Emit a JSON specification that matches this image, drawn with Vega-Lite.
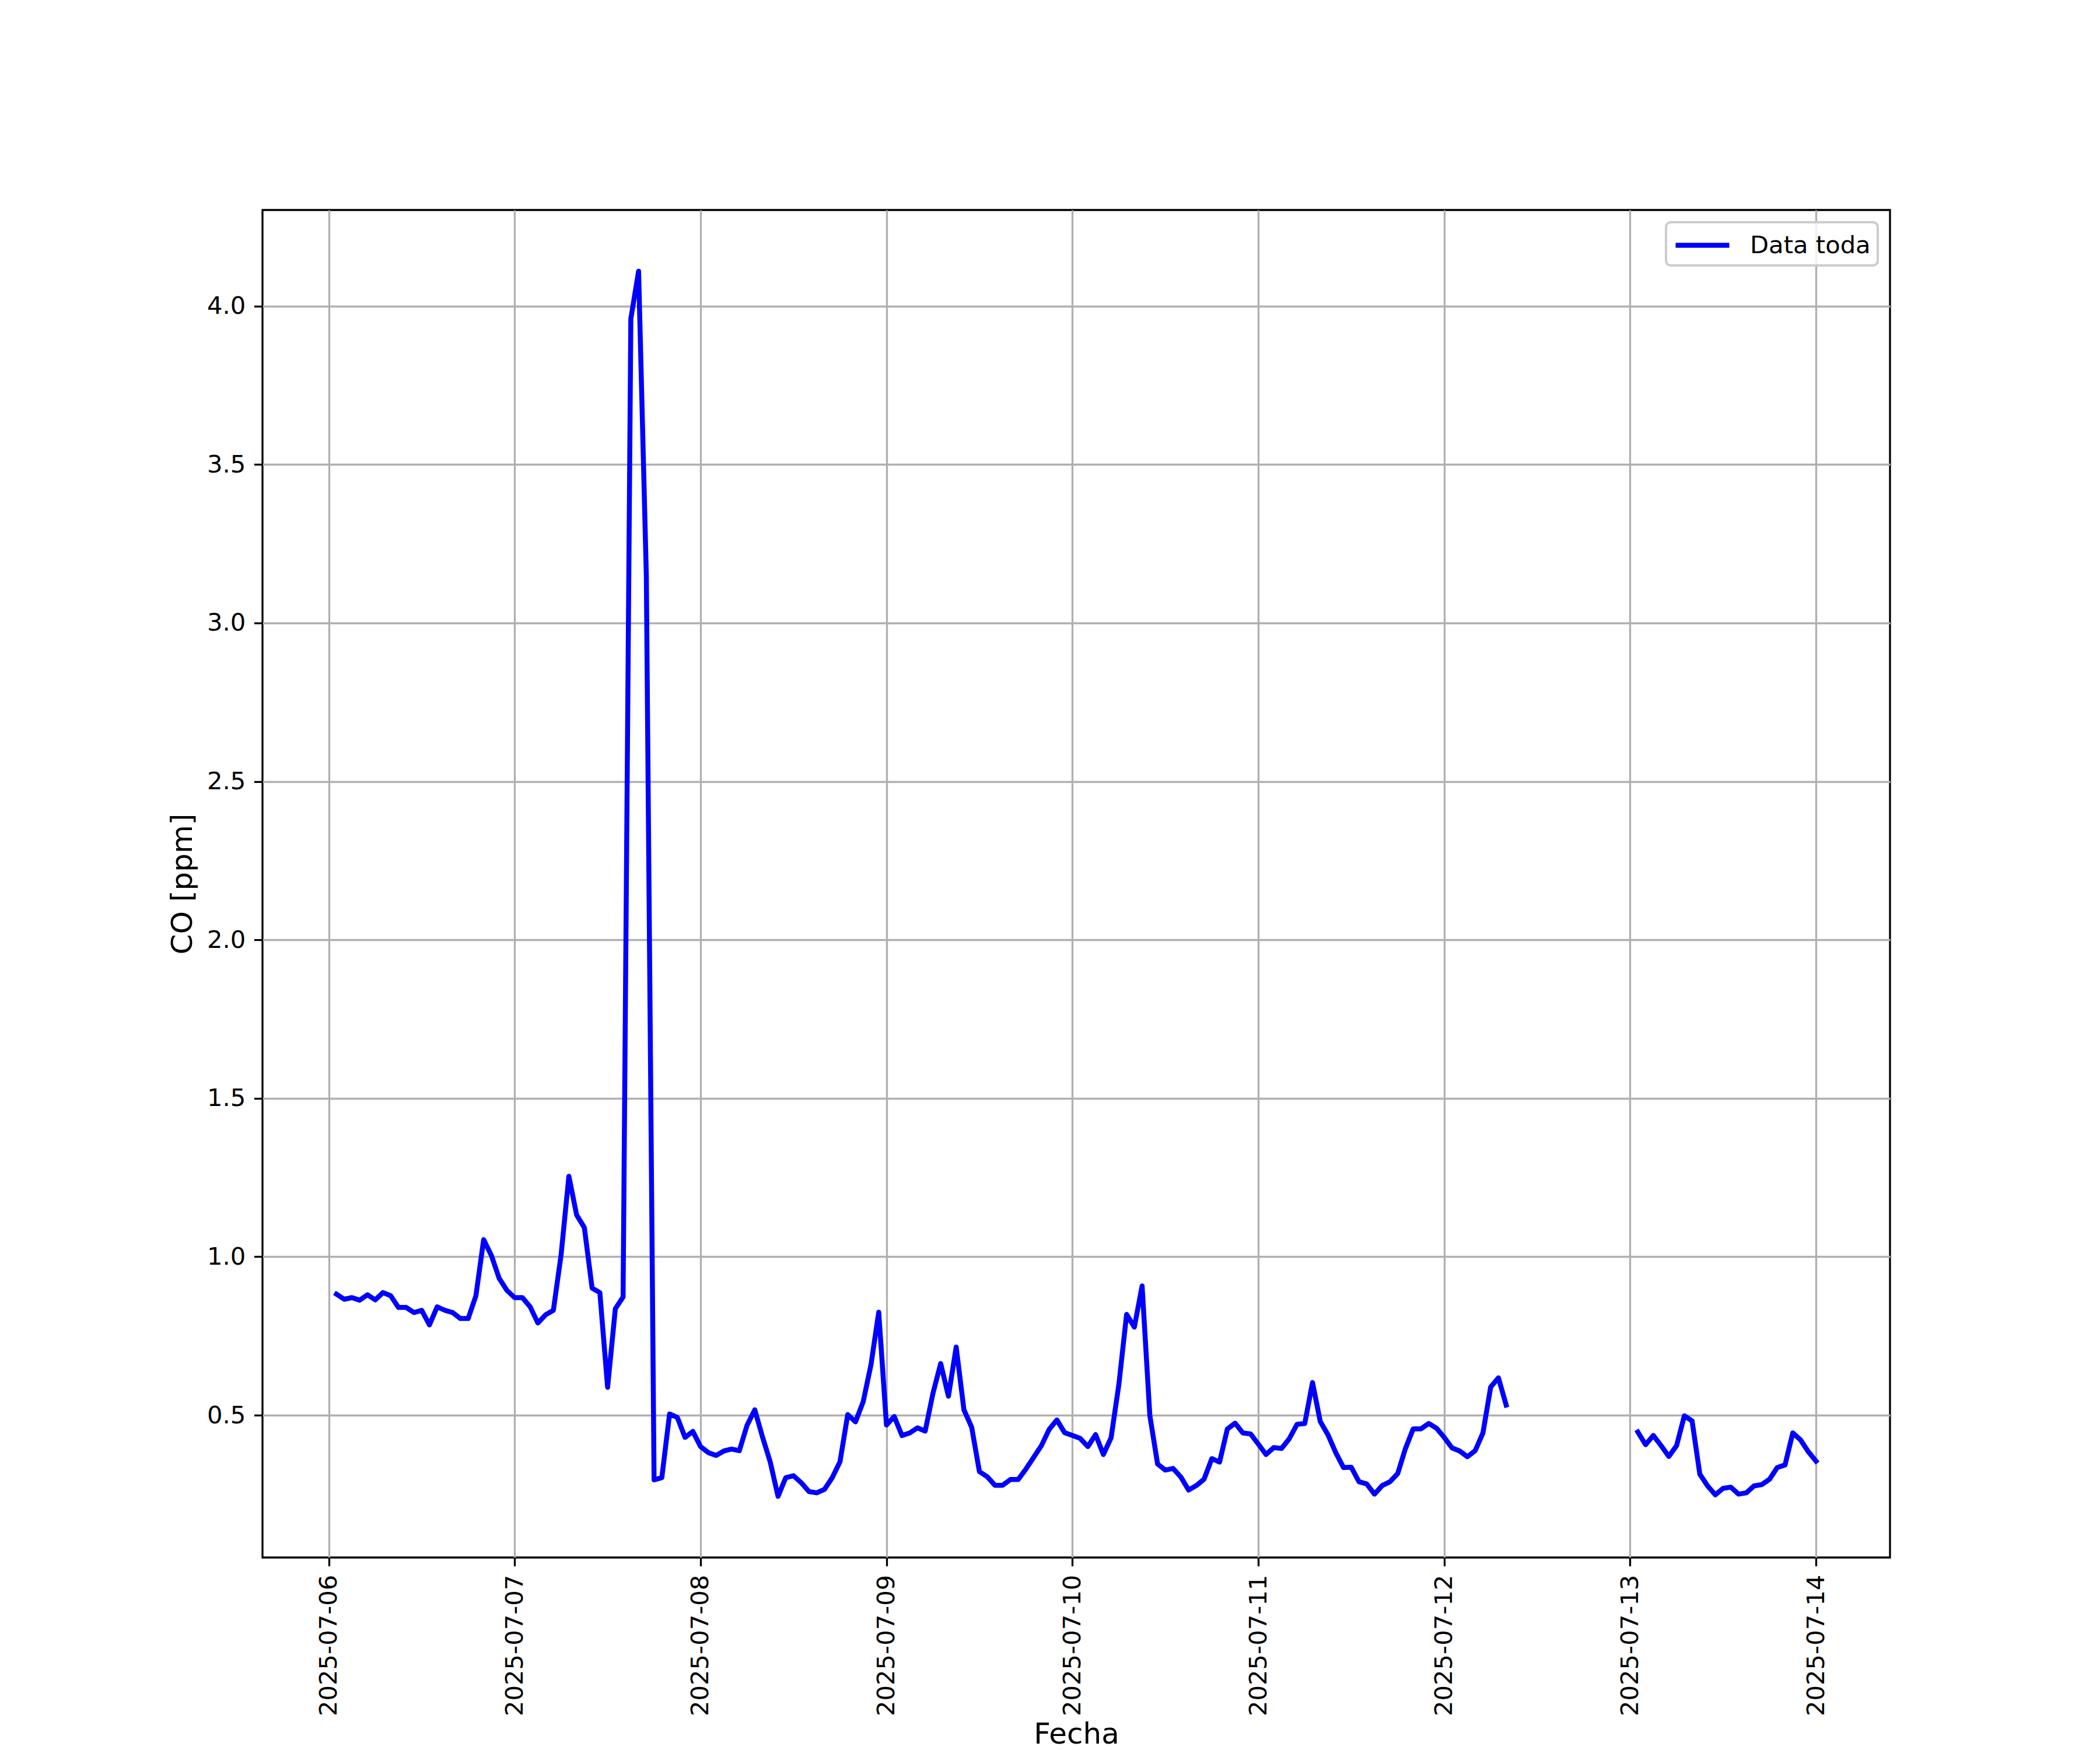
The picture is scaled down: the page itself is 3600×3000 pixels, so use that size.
{
  "$schema": "https://vega.github.io/schema/vega-lite/v6.json",
  "width": 2790,
  "height": 2310,
  "autosize": {"type": "none"},
  "padding": {"left": 450, "top": 360, "right": 360, "bottom": 330},
  "background": "white",
  "config": {
    "font": "DejaVu Sans",
    "view": {"stroke": "black", "strokeWidth": 3.3},
    "axis": {
      "domain": false,
      "grid": true,
      "gridColor": "#b0b0b0",
      "gridWidth": 3.3,
      "gridOpacity": 1,
      "tickColor": "black",
      "tickWidth": 3.3,
      "tickSize": 14.6,
      "labelFont": "DejaVu Sans",
      "labelFontSize": 41.7,
      "labelColor": "black",
      "labelPadding": 14.6,
      "labelLimit": 400,
      "titleFont": "DejaVu Sans",
      "titleFontSize": 50,
      "titleFontWeight": "normal",
      "titleColor": "black",
      "titlePadding": 16
    },
    "legend": {
      "orient": "top-right",
      "offset": 21,
      "symbolType": "M-2,0H2",
      "symbolStrokeWidth": 8.5,
      "symbolSize": 2116,
      "symbolOffset": 23,
      "labelFont": "DejaVu Sans",
      "labelFontSize": 41.7,
      "labelColor": "black",
      "labelOffset": 54,
      "labelLimit": 0,
      "padding": 12,
      "strokeColor": "#cccccc",
      "strokeWidth": 4,
      "fillColor": "rgba(255,255,255,0.8)",
      "cornerRadius": 8
    }
  },
  "data": {
    "values": [
      {"fecha": "2025-07-06T01:00", "co": 0.882, "tramo": 1},
      {"fecha": "2025-07-06T02:00", "co": 0.866, "tramo": 1},
      {"fecha": "2025-07-06T03:00", "co": 0.871, "tramo": 1},
      {"fecha": "2025-07-06T04:00", "co": 0.863, "tramo": 1},
      {"fecha": "2025-07-06T05:00", "co": 0.880, "tramo": 1},
      {"fecha": "2025-07-06T06:00", "co": 0.864, "tramo": 1},
      {"fecha": "2025-07-06T07:00", "co": 0.887, "tramo": 1},
      {"fecha": "2025-07-06T08:00", "co": 0.877, "tramo": 1},
      {"fecha": "2025-07-06T09:00", "co": 0.840, "tramo": 1},
      {"fecha": "2025-07-06T10:00", "co": 0.840, "tramo": 1},
      {"fecha": "2025-07-06T11:00", "co": 0.824, "tramo": 1},
      {"fecha": "2025-07-06T12:00", "co": 0.831, "tramo": 1},
      {"fecha": "2025-07-06T13:00", "co": 0.785, "tramo": 1},
      {"fecha": "2025-07-06T14:00", "co": 0.842, "tramo": 1},
      {"fecha": "2025-07-06T15:00", "co": 0.831, "tramo": 1},
      {"fecha": "2025-07-06T16:00", "co": 0.824, "tramo": 1},
      {"fecha": "2025-07-06T17:00", "co": 0.805, "tramo": 1},
      {"fecha": "2025-07-06T18:00", "co": 0.805, "tramo": 1},
      {"fecha": "2025-07-06T19:00", "co": 0.877, "tramo": 1},
      {"fecha": "2025-07-06T20:00", "co": 1.054, "tramo": 1},
      {"fecha": "2025-07-06T21:00", "co": 1.004, "tramo": 1},
      {"fecha": "2025-07-06T22:00", "co": 0.932, "tramo": 1},
      {"fecha": "2025-07-06T23:00", "co": 0.894, "tramo": 1},
      {"fecha": "2025-07-07T00:00", "co": 0.871, "tramo": 1},
      {"fecha": "2025-07-07T01:00", "co": 0.871, "tramo": 1},
      {"fecha": "2025-07-07T02:00", "co": 0.842, "tramo": 1},
      {"fecha": "2025-07-07T03:00", "co": 0.791, "tramo": 1},
      {"fecha": "2025-07-07T04:00", "co": 0.817, "tramo": 1},
      {"fecha": "2025-07-07T05:00", "co": 0.831, "tramo": 1},
      {"fecha": "2025-07-07T06:00", "co": 1.007, "tramo": 1},
      {"fecha": "2025-07-07T07:00", "co": 1.254, "tramo": 1},
      {"fecha": "2025-07-07T08:00", "co": 1.132, "tramo": 1},
      {"fecha": "2025-07-07T09:00", "co": 1.092, "tramo": 1},
      {"fecha": "2025-07-07T10:00", "co": 0.901, "tramo": 1},
      {"fecha": "2025-07-07T11:00", "co": 0.887, "tramo": 1},
      {"fecha": "2025-07-07T12:00", "co": 0.588, "tramo": 1},
      {"fecha": "2025-07-07T13:00", "co": 0.836, "tramo": 1},
      {"fecha": "2025-07-07T14:00", "co": 0.873, "tramo": 1},
      {"fecha": "2025-07-07T15:00", "co": 3.96, "tramo": 1},
      {"fecha": "2025-07-07T16:00", "co": 4.11, "tramo": 1},
      {"fecha": "2025-07-07T17:00", "co": 3.15, "tramo": 1},
      {"fecha": "2025-07-07T18:00", "co": 0.296, "tramo": 1},
      {"fecha": "2025-07-07T19:00", "co": 0.303, "tramo": 1},
      {"fecha": "2025-07-07T20:00", "co": 0.504, "tramo": 1},
      {"fecha": "2025-07-07T21:00", "co": 0.493, "tramo": 1},
      {"fecha": "2025-07-07T22:00", "co": 0.430, "tramo": 1},
      {"fecha": "2025-07-07T23:00", "co": 0.449, "tramo": 1},
      {"fecha": "2025-07-08T00:00", "co": 0.401, "tramo": 1},
      {"fecha": "2025-07-08T01:00", "co": 0.382, "tramo": 1},
      {"fecha": "2025-07-08T02:00", "co": 0.373, "tramo": 1},
      {"fecha": "2025-07-08T03:00", "co": 0.387, "tramo": 1},
      {"fecha": "2025-07-08T04:00", "co": 0.393, "tramo": 1},
      {"fecha": "2025-07-08T05:00", "co": 0.388, "tramo": 1},
      {"fecha": "2025-07-08T06:00", "co": 0.468, "tramo": 1},
      {"fecha": "2025-07-08T07:00", "co": 0.517, "tramo": 1},
      {"fecha": "2025-07-08T08:00", "co": 0.431, "tramo": 1},
      {"fecha": "2025-07-08T09:00", "co": 0.352, "tramo": 1},
      {"fecha": "2025-07-08T10:00", "co": 0.244, "tramo": 1},
      {"fecha": "2025-07-08T11:00", "co": 0.303, "tramo": 1},
      {"fecha": "2025-07-08T12:00", "co": 0.309, "tramo": 1},
      {"fecha": "2025-07-08T13:00", "co": 0.287, "tramo": 1},
      {"fecha": "2025-07-08T14:00", "co": 0.259, "tramo": 1},
      {"fecha": "2025-07-08T15:00", "co": 0.255, "tramo": 1},
      {"fecha": "2025-07-08T16:00", "co": 0.266, "tramo": 1},
      {"fecha": "2025-07-08T17:00", "co": 0.303, "tramo": 1},
      {"fecha": "2025-07-08T18:00", "co": 0.353, "tramo": 1},
      {"fecha": "2025-07-08T19:00", "co": 0.502, "tramo": 1},
      {"fecha": "2025-07-08T20:00", "co": 0.479, "tramo": 1},
      {"fecha": "2025-07-08T21:00", "co": 0.543, "tramo": 1},
      {"fecha": "2025-07-08T22:00", "co": 0.659, "tramo": 1},
      {"fecha": "2025-07-08T23:00", "co": 0.825, "tramo": 1},
      {"fecha": "2025-07-09T00:00", "co": 0.469, "tramo": 1},
      {"fecha": "2025-07-09T01:00", "co": 0.496, "tramo": 1},
      {"fecha": "2025-07-09T02:00", "co": 0.436, "tramo": 1},
      {"fecha": "2025-07-09T03:00", "co": 0.444, "tramo": 1},
      {"fecha": "2025-07-09T04:00", "co": 0.460, "tramo": 1},
      {"fecha": "2025-07-09T05:00", "co": 0.450, "tramo": 1},
      {"fecha": "2025-07-09T06:00", "co": 0.569, "tramo": 1},
      {"fecha": "2025-07-09T07:00", "co": 0.663, "tramo": 1},
      {"fecha": "2025-07-09T08:00", "co": 0.560, "tramo": 1},
      {"fecha": "2025-07-09T09:00", "co": 0.715, "tramo": 1},
      {"fecha": "2025-07-09T10:00", "co": 0.517, "tramo": 1},
      {"fecha": "2025-07-09T11:00", "co": 0.462, "tramo": 1},
      {"fecha": "2025-07-09T12:00", "co": 0.322, "tramo": 1},
      {"fecha": "2025-07-09T13:00", "co": 0.306, "tramo": 1},
      {"fecha": "2025-07-09T14:00", "co": 0.279, "tramo": 1},
      {"fecha": "2025-07-09T15:00", "co": 0.279, "tramo": 1},
      {"fecha": "2025-07-09T16:00", "co": 0.297, "tramo": 1},
      {"fecha": "2025-07-09T17:00", "co": 0.297, "tramo": 1},
      {"fecha": "2025-07-09T18:00", "co": 0.330, "tramo": 1},
      {"fecha": "2025-07-09T19:00", "co": 0.367, "tramo": 1},
      {"fecha": "2025-07-09T20:00", "co": 0.404, "tramo": 1},
      {"fecha": "2025-07-09T21:00", "co": 0.455, "tramo": 1},
      {"fecha": "2025-07-09T22:00", "co": 0.485, "tramo": 1},
      {"fecha": "2025-07-09T23:00", "co": 0.445, "tramo": 1},
      {"fecha": "2025-07-10T00:00", "co": 0.436, "tramo": 1},
      {"fecha": "2025-07-10T01:00", "co": 0.427, "tramo": 1},
      {"fecha": "2025-07-10T02:00", "co": 0.401, "tramo": 1},
      {"fecha": "2025-07-10T03:00", "co": 0.439, "tramo": 1},
      {"fecha": "2025-07-10T04:00", "co": 0.376, "tramo": 1},
      {"fecha": "2025-07-10T05:00", "co": 0.429, "tramo": 1},
      {"fecha": "2025-07-10T06:00", "co": 0.597, "tramo": 1},
      {"fecha": "2025-07-10T07:00", "co": 0.818, "tramo": 1},
      {"fecha": "2025-07-10T08:00", "co": 0.778, "tramo": 1},
      {"fecha": "2025-07-10T09:00", "co": 0.908, "tramo": 1},
      {"fecha": "2025-07-10T10:00", "co": 0.499, "tramo": 1},
      {"fecha": "2025-07-10T11:00", "co": 0.346, "tramo": 1},
      {"fecha": "2025-07-10T12:00", "co": 0.327, "tramo": 1},
      {"fecha": "2025-07-10T13:00", "co": 0.332, "tramo": 1},
      {"fecha": "2025-07-10T14:00", "co": 0.305, "tramo": 1},
      {"fecha": "2025-07-10T15:00", "co": 0.264, "tramo": 1},
      {"fecha": "2025-07-10T16:00", "co": 0.278, "tramo": 1},
      {"fecha": "2025-07-10T17:00", "co": 0.298, "tramo": 1},
      {"fecha": "2025-07-10T18:00", "co": 0.363, "tramo": 1},
      {"fecha": "2025-07-10T19:00", "co": 0.352, "tramo": 1},
      {"fecha": "2025-07-10T20:00", "co": 0.456, "tramo": 1},
      {"fecha": "2025-07-10T21:00", "co": 0.475, "tramo": 1},
      {"fecha": "2025-07-10T22:00", "co": 0.444, "tramo": 1},
      {"fecha": "2025-07-10T23:00", "co": 0.441, "tramo": 1},
      {"fecha": "2025-07-11T00:00", "co": 0.409, "tramo": 1},
      {"fecha": "2025-07-11T01:00", "co": 0.376, "tramo": 1},
      {"fecha": "2025-07-11T02:00", "co": 0.398, "tramo": 1},
      {"fecha": "2025-07-11T03:00", "co": 0.395, "tramo": 1},
      {"fecha": "2025-07-11T04:00", "co": 0.426, "tramo": 1},
      {"fecha": "2025-07-11T05:00", "co": 0.471, "tramo": 1},
      {"fecha": "2025-07-11T06:00", "co": 0.474, "tramo": 1},
      {"fecha": "2025-07-11T07:00", "co": 0.603, "tramo": 1},
      {"fecha": "2025-07-11T08:00", "co": 0.480, "tramo": 1},
      {"fecha": "2025-07-11T09:00", "co": 0.438, "tramo": 1},
      {"fecha": "2025-07-11T10:00", "co": 0.382, "tramo": 1},
      {"fecha": "2025-07-11T11:00", "co": 0.335, "tramo": 1},
      {"fecha": "2025-07-11T12:00", "co": 0.336, "tramo": 1},
      {"fecha": "2025-07-11T13:00", "co": 0.290, "tramo": 1},
      {"fecha": "2025-07-11T14:00", "co": 0.283, "tramo": 1},
      {"fecha": "2025-07-11T15:00", "co": 0.251, "tramo": 1},
      {"fecha": "2025-07-11T16:00", "co": 0.278, "tramo": 1},
      {"fecha": "2025-07-11T17:00", "co": 0.290, "tramo": 1},
      {"fecha": "2025-07-11T18:00", "co": 0.316, "tramo": 1},
      {"fecha": "2025-07-11T19:00", "co": 0.395, "tramo": 1},
      {"fecha": "2025-07-11T20:00", "co": 0.457, "tramo": 1},
      {"fecha": "2025-07-11T21:00", "co": 0.457, "tramo": 1},
      {"fecha": "2025-07-11T22:00", "co": 0.474, "tramo": 1},
      {"fecha": "2025-07-11T23:00", "co": 0.459, "tramo": 1},
      {"fecha": "2025-07-12T00:00", "co": 0.430, "tramo": 1},
      {"fecha": "2025-07-12T01:00", "co": 0.397, "tramo": 1},
      {"fecha": "2025-07-12T02:00", "co": 0.387, "tramo": 1},
      {"fecha": "2025-07-12T03:00", "co": 0.369, "tramo": 1},
      {"fecha": "2025-07-12T04:00", "co": 0.388, "tramo": 1},
      {"fecha": "2025-07-12T05:00", "co": 0.444, "tramo": 1},
      {"fecha": "2025-07-12T06:00", "co": 0.589, "tramo": 1},
      {"fecha": "2025-07-12T07:00", "co": 0.618, "tramo": 1},
      {"fecha": "2025-07-12T08:00", "co": 0.532, "tramo": 1},
      {"fecha": "2025-07-13T01:00", "co": 0.447, "tramo": 2},
      {"fecha": "2025-07-13T02:00", "co": 0.407, "tramo": 2},
      {"fecha": "2025-07-13T03:00", "co": 0.436, "tramo": 2},
      {"fecha": "2025-07-13T04:00", "co": 0.404, "tramo": 2},
      {"fecha": "2025-07-13T05:00", "co": 0.370, "tramo": 2},
      {"fecha": "2025-07-13T06:00", "co": 0.404, "tramo": 2},
      {"fecha": "2025-07-13T07:00", "co": 0.498, "tramo": 2},
      {"fecha": "2025-07-13T08:00", "co": 0.482, "tramo": 2},
      {"fecha": "2025-07-13T09:00", "co": 0.314, "tramo": 2},
      {"fecha": "2025-07-13T10:00", "co": 0.277, "tramo": 2},
      {"fecha": "2025-07-13T11:00", "co": 0.249, "tramo": 2},
      {"fecha": "2025-07-13T12:00", "co": 0.269, "tramo": 2},
      {"fecha": "2025-07-13T13:00", "co": 0.273, "tramo": 2},
      {"fecha": "2025-07-13T14:00", "co": 0.251, "tramo": 2},
      {"fecha": "2025-07-13T15:00", "co": 0.255, "tramo": 2},
      {"fecha": "2025-07-13T16:00", "co": 0.277, "tramo": 2},
      {"fecha": "2025-07-13T17:00", "co": 0.281, "tramo": 2},
      {"fecha": "2025-07-13T18:00", "co": 0.298, "tramo": 2},
      {"fecha": "2025-07-13T19:00", "co": 0.335, "tramo": 2},
      {"fecha": "2025-07-13T20:00", "co": 0.343, "tramo": 2},
      {"fecha": "2025-07-13T21:00", "co": 0.444, "tramo": 2},
      {"fecha": "2025-07-13T22:00", "co": 0.422, "tramo": 2},
      {"fecha": "2025-07-13T23:00", "co": 0.385, "tramo": 2},
      {"fecha": "2025-07-14T00:00", "co": 0.355, "tramo": 2}
    ]
  },
  "mark": {"type": "line", "strokeWidth": 8.5, "strokeJoin": "round", "strokeCap": "square"},
  "encoding": {
    "x": {
      "field": "fecha",
      "type": "temporal",
      "scale": {
        "domain": [
          {"year": 2025, "month": 7, "date": 5, "hours": 15, "minutes": 27},
          {"year": 2025, "month": 7, "date": 14, "hours": 9, "minutes": 33}
        ]
      },
      "axis": {
        "title": "Fecha",
        "titleY": 318,
        "titleBaseline": "alphabetic",
        "format": "%Y-%m-%d",
        "labelAngle": -90,
        "values": [
          {"year": 2025, "month": 7, "date": 6},
          {"year": 2025, "month": 7, "date": 7},
          {"year": 2025, "month": 7, "date": 8},
          {"year": 2025, "month": 7, "date": 9},
          {"year": 2025, "month": 7, "date": 10},
          {"year": 2025, "month": 7, "date": 11},
          {"year": 2025, "month": 7, "date": 12},
          {"year": 2025, "month": 7, "date": 13},
          {"year": 2025, "month": 7, "date": 14}
        ]
      }
    },
    "y": {
      "field": "co",
      "type": "quantitative",
      "scale": {"domain": [0.051, 4.303], "nice": false, "zero": false},
      "axis": {
        "title": "CO [ppm]",
        "format": ".1f",
        "values": [0.5, 1.0, 1.5, 2.0, 2.5, 3.0, 3.5, 4.0]
      }
    },
    "color": {
      "datum": "Data toda",
      "type": "nominal",
      "scale": {"range": ["#0000ff"]},
      "legend": {"title": null}
    },
    "detail": {"field": "tramo", "type": "nominal"}
  }
}
